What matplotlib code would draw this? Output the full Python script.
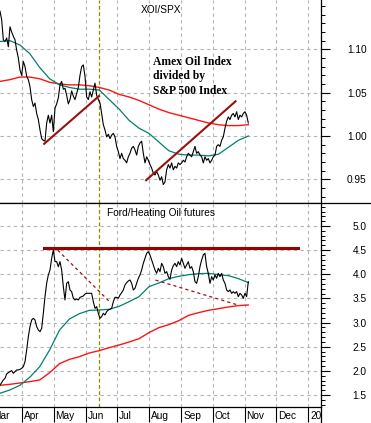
import numpy as np
import pandas as pd
import matplotlib
matplotlib.use("Agg")
import matplotlib.pyplot as plt
from matplotlib.lines import Line2D
from matplotlib.ticker import FixedLocator, MultipleLocator, FormatStrFormatter

plt.rcParams['font.family'] = ['Liberation Sans', 'DejaVu Sans']

# XOI/SPX ratio (roughly every 1.6 days, Mar 10 - Nov 4)
xoi_spx = [1.144, 1.134, 1.111, 1.109, 1.113, 1.103, 1.126, 1.120, 1.115, 1.111,
           1.099, 1.090, 1.076, 1.070, 1.086, 1.080, 1.069, 1.065, 1.057, 1.042,
           1.034, 1.038, 1.026, 1.019, 1.007, 0.997, 0.995, 0.994, 1.015, 1.024,
           1.015, 1.024, 1.005, 1.032, 1.037, 1.044, 1.059, 1.063, 1.054, 1.055,
           1.047, 1.037, 1.042, 1.052, 1.046, 1.042, 1.049, 1.056, 1.070, 1.080,
           1.082, 1.069, 1.045, 1.042, 1.051, 1.045, 1.053, 1.061, 1.047, 1.042,
           1.038, 1.026, 1.013, 1.007, 0.999, 1.002, 0.997, 1.001, 1.003, 0.999,
           0.988, 0.982, 0.974, 0.980, 0.974, 0.972, 0.969, 0.976, 0.980, 0.986,
           0.988, 0.984, 0.978, 0.988, 0.992, 0.994, 0.980, 0.969, 0.976, 0.972,
           0.967, 0.963, 0.957, 0.955, 0.959, 0.955, 0.949, 0.953, 0.944, 0.947,
           0.961, 0.967, 0.963, 0.969, 0.961, 0.965, 0.963, 0.969, 0.967, 0.969,
           0.972, 0.970, 0.976, 0.980, 0.978, 0.976, 0.982, 0.988, 0.980, 0.982,
           0.978, 0.976, 0.969, 0.976, 0.972, 0.974, 0.969, 0.972, 0.976, 0.978,
           0.988, 0.990, 0.988, 0.995, 0.999, 1.009, 1.017, 1.022, 1.019, 1.024,
           1.026, 1.022, 1.028, 1.019, 1.024, 1.022, 1.026, 1.028, 1.024, 1.015]

# moving averages (26 points across the same span)
xoi_ma_short = [1.109, 1.110, 1.105, 1.095, 1.079, 1.066, 1.059, 1.056, 1.054, 1.054,
                1.053, 1.042, 1.031, 1.018, 1.009, 1.003, 0.993, 0.983, 0.979, 0.978,
                0.978, 0.977, 0.979, 0.987, 0.995, 1.000]
xoi_ma_long = [1.063, 1.065, 1.068, 1.068, 1.066, 1.062, 1.060, 1.059, 1.059, 1.058,
               1.056, 1.053, 1.048, 1.045, 1.041, 1.036, 1.031, 1.027, 1.024, 1.021,
               1.018, 1.015, 1.013, 1.012, 1.012, 1.013]

# Ford / heating oil futures ratio
ford_ho = [1.708, 1.756, 1.812, 1.846, 1.936, 1.963, 1.984, 2.005, 1.950, 1.984,
           2.019, 2.019, 2.032, 2.053, 2.088, 2.191, 2.433, 2.709, 2.916, 3.054,
           3.088, 3.054, 2.916, 2.847, 2.812, 2.881, 3.192, 3.537, 3.813, 3.986,
           4.089, 4.331, 4.503, 4.262, 4.262, 4.158, 4.262, 4.089, 3.744, 3.468,
           3.813, 3.847, 3.675, 3.640, 3.502, 3.468, 3.489, 3.468, 3.523, 3.537,
           3.551, 3.592, 3.606, 3.606, 3.606, 3.606, 3.433, 3.295, 3.330, 3.192,
           3.088, 3.123, 3.192, 3.157, 3.226, 3.261, 3.275, 3.295, 3.433, 3.523,
           3.523, 3.502, 3.571, 3.620, 3.675, 3.778, 3.827, 3.861, 3.882, 3.813,
           3.675, 3.709, 3.813, 3.917, 3.986, 4.089, 4.227, 4.331, 4.434, 4.469,
           4.400, 4.296, 4.193, 4.089, 4.020, 4.124, 4.055, 4.227, 4.158, 4.020,
           4.055, 3.951, 3.896, 4.089, 4.179, 4.227, 4.158, 4.262, 4.193, 4.331,
           4.227, 4.124, 4.193, 4.262, 4.124, 4.158, 4.055, 3.847, 3.813, 3.951,
           4.158, 4.296, 4.400, 4.434, 4.158, 4.020, 3.813, 3.951, 3.882, 3.986,
           3.917, 4.020, 3.951, 4.020, 3.882, 3.813, 3.675, 3.640, 3.675, 3.606,
           3.640, 3.606, 3.640, 3.537, 3.606, 3.571, 3.502, 3.606, 3.537, 3.847]
ford_ma_short = [1.536, 1.605, 1.701, 1.867, 2.088, 2.433, 2.847, 3.075, 3.185, 3.254,
                 3.261, 3.275, 3.337, 3.433, 3.537, 3.744, 3.820, 3.910, 3.958, 3.992,
                 4.013, 4.020, 3.992, 3.972, 3.910, 3.827]
ford_ma_long = [1.701, 1.722, 1.749, 1.777, 1.812, 1.963, 2.150, 2.239, 2.295, 2.371,
                2.419, 2.481, 2.536, 2.598, 2.667, 2.792, 2.895, 2.957, 3.040, 3.150,
                3.206, 3.254, 3.288, 3.323, 3.351, 3.364]

# hand-drawn trend lines
xoi_trend1_dates = ['2019-04-22 00:00', '2019-06-13 16:00']
xoi_trend1_vals = [0.991, 1.046]
xoi_trend2_dates = ['2019-07-29 00:00', '2019-10-23 00:00']
xoi_trend2_vals = [0.949, 1.040]
ford_top_dates = ['2019-04-22 00:00', '2019-12-22 00:00']
ford_top_vals = [4.54, 4.54]
ford_dash1_dates = ['2019-05-05 00:00', '2019-06-24 00:00']
ford_dash1_vals = [4.50, 3.43]
ford_dash2_dates = ['2019-08-07 00:00', '2019-10-26 00:00']
ford_dash2_vals = [3.88, 3.36]

month_labels = ['Mar', 'Apr', 'May', 'Jun', 'Jul', 'Aug', 'Sep', 'Oct', 'Nov', 'Dec', '20']
marker_date = '2019-06-14'

start, end = pd.Timestamp('2019-03-10 12:00'), pd.Timestamp('2019-11-04 07:00')
dates = pd.date_range(start, end, periods=len(xoi_spx))
ma_dates = pd.date_range(start, end, periods=len(xoi_ma_short))
months = pd.date_range('2019-03-01', '2020-01-01', freq='MS')
xmin, xmax = start, pd.Timestamp('2020-01-13 05:00')

teal = '#00806e'
red = '#ff1414'
dark_red = '#9a1010'
grid_kw = dict(color='#b4b4b4', linestyle=(0, (3, 3)), linewidth=0.8)

W, H = 371, 423
fig = plt.figure(figsize=(W / 100, H / 100), dpi=100)
ax1 = fig.add_axes([0, (H - 203) / H, 321 / W, 203 / H])
ax2 = fig.add_axes([0, (H - 407) / H, 321 / W, 204 / H])

for ax in (ax1, ax2):
    ax.set_xlim(xmin, xmax)
    ax.spines['left'].set_visible(False)
    ax.spines['top'].set_visible(False)
    ax.spines['right'].set_linewidth(0.9)
    ax.spines['bottom'].set_linewidth(0.9)
    ax.yaxis.tick_right()
    ax.xaxis.set_major_locator(FixedLocator([matplotlib.dates.date2num(m) for m in months[1:]]))
    ax.set_xticklabels([])
    ax.tick_params(axis='y', which='major', direction='out', length=6.3, width=0.8,
                   labelsize=7.3, pad=26.6)
    ax.tick_params(axis='y', which='minor', direction='out', length=2.8, width=0.7)
    ax.grid(True, which='major', **grid_kw)
    ax.axvline(pd.Timestamp(marker_date), color='#8c8c00', linestyle=(0, (3, 2)), linewidth=0.9)

# top panel
ax1.set_ylim(0.9227, 1.1569)
ax1.yaxis.set_major_locator(FixedLocator([0.95, 1.00, 1.05, 1.10]))
ax1.yaxis.set_minor_locator(MultipleLocator(0.01))
ax1.yaxis.set_major_formatter(FormatStrFormatter('%.2f'))
ax1.tick_params(axis='x', length=0)
ax1.plot(ma_dates, xoi_ma_long, color=red, lw=1.0)
ax1.plot(ma_dates, xoi_ma_short, color=teal, lw=0.9)
ax1.plot(dates, xoi_spx, color='black', lw=0.8)
ax1.plot(pd.to_datetime(xoi_trend1_dates), xoi_trend1_vals, color=dark_red, lw=1.5)
ax1.plot(pd.to_datetime(xoi_trend2_dates), xoi_trend2_vals, color=dark_red, lw=1.5)
ax1.text(161 / 321, 1 - 10 / 203, 'XOI/SPX', transform=ax1.transAxes,
         ha='center', va='center', fontsize=7.3)
ax1.text(153 / 321, 1 - 56 / 203, 'Amex Oil Index\ndivided by\nS&P 500 Index',
         transform=ax1.transAxes, ha='left', va='top', fontsize=8.4,
         family='Liberation Serif', weight='bold', linespacing=1.25)

# bottom panel
ax2.set_ylim(1.252, 5.476)
ax2.yaxis.set_major_locator(FixedLocator([1.5, 2.0, 2.5, 3.0, 3.5, 4.0, 4.5, 5.0]))
ax2.yaxis.set_minor_locator(MultipleLocator(0.1))
ax2.yaxis.set_major_formatter(FormatStrFormatter('%.1f'))
ax2.tick_params(axis='x', direction='out', length=11, width=0.8)
ax2.plot(ma_dates, ford_ma_long, color=red, lw=1.0)
ax2.plot(ma_dates, ford_ma_short, color=teal, lw=0.9)
ax2.plot(dates, ford_ho, color='black', lw=0.8)
ax2.plot(pd.to_datetime(ford_top_dates), ford_top_vals, color='#990000', lw=2.2)
ax2.plot(pd.to_datetime(ford_dash1_dates), ford_dash1_vals, color=dark_red, lw=0.9,
         linestyle=(0, (2.5, 2.5)))
ax2.plot(pd.to_datetime(ford_dash2_dates), ford_dash2_vals, color=dark_red, lw=0.9,
         linestyle=(0, (2.5, 2.5)))
ax2.text(161 / 321, 1 - 9.7 / 204, 'Ford/Heating Oil futures', transform=ax2.transAxes,
         ha='center', va='center', fontsize=7.3)

for ax in (ax1, ax2):
    for lbl in ax.get_yticklabels():
        lbl.set_horizontalalignment('right')

# month labels sit just right of their tick
trans = matplotlib.transforms.blended_transform_factory(ax2.transData, ax2.transAxes)
for m, name in zip(months, month_labels):
    ax2.text(m + pd.Timedelta(days=1.6), -9 / 204, name, transform=trans,
             ha='left', va='center', fontsize=7.3, clip_on=False)

# panel separator across the full width and right axis running into the date row
sep_y = (H - 203) / H
fig.add_artist(Line2D([0, 1], [sep_y, sep_y], transform=fig.transFigure, color='black', lw=0.9))
fig.add_artist(Line2D([321 / W, 321 / W], [0, (H - 407) / H], transform=fig.transFigure,
                      color='black', lw=0.9))

fig.savefig('out.png', dpi=100)
